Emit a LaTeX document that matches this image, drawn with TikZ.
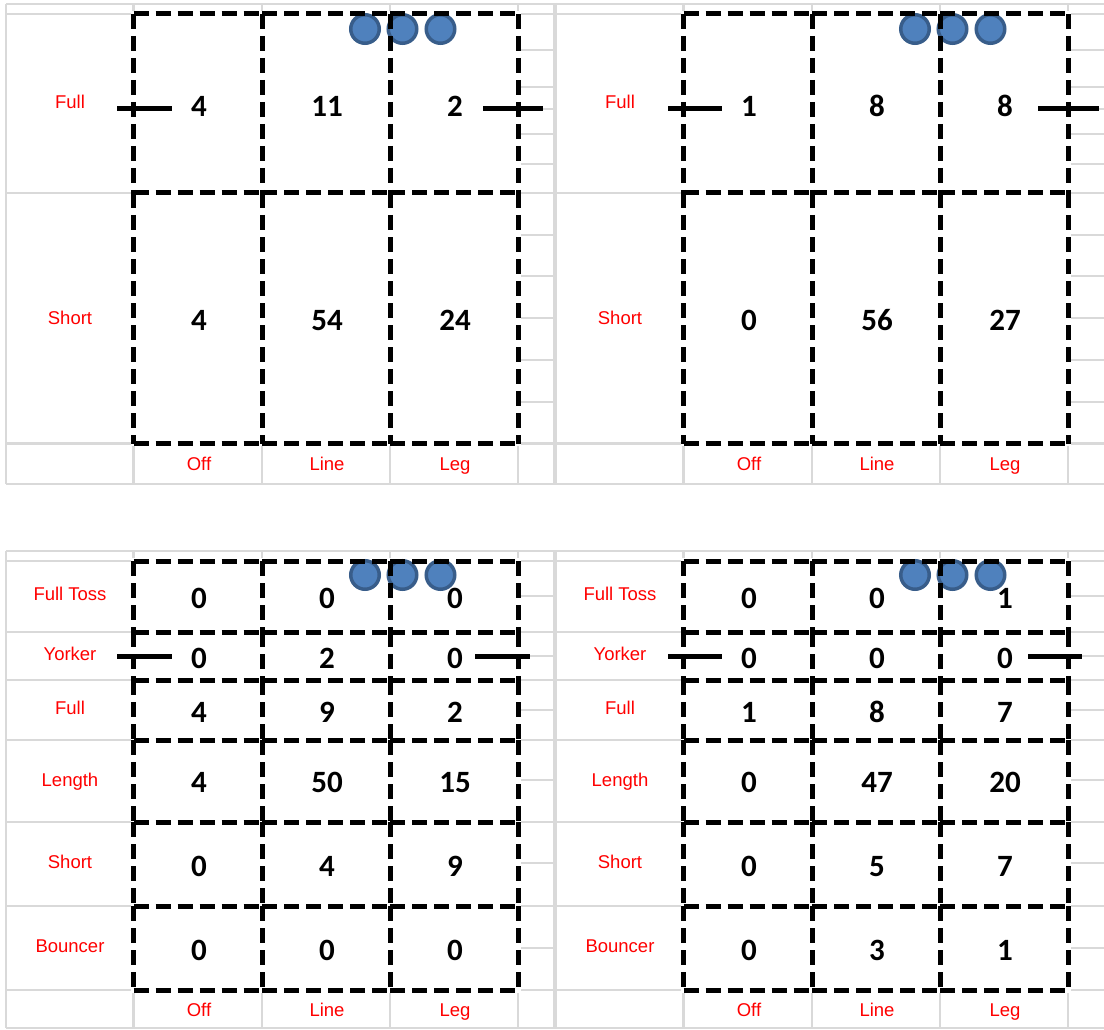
\documentclass[tikz,border=0pt]{standalone}
\usepackage{fontspec}
\setmainfont{Liberation Sans}
\newfontfamily\numfont{Carlito}
\definecolor{gridgray}{RGB}{217,217,217}
\definecolor{ballfill}{RGB}{79,129,189}
\definecolor{balledge}{RGB}{56,93,138}
\definecolor{lblred}{RGB}{255,0,0}
\newcommand\numrow[4]{%
  \foreach \v [count=\i] in {#4}
    \node[num] (#3-\i) at ({#1+71+128*\i},#2) {\v};}
\begin{document}
\begin{tikzpicture}[x=1pt,y=-1pt,
  gridline/.style={draw=gridgray,line width=2.2pt},
  divider/.style={draw=gridgray,line width=4.5pt},
  cellwhite/.style={draw=white,line width=5.4pt},
  cellbox/.style={draw=black,line width=5pt,dash pattern=on 15pt off 7pt},
  num/.style={font=\numfont\bfseries\fontsize{31}{31}\selectfont,anchor=base,inner sep=0pt},
  lbl/.style={font=\fontsize{18.5}{18.5}\selectfont,text=lblred,anchor=base,inner sep=0pt},
  ball/.style={circle,fill=ballfill,draw=balledge,line width=3.5pt,minimum size=28.5pt,inner sep=0pt},
  tickmark/.style={draw=black,line width=5pt},
]
\useasboundingbox (0,0) rectangle (1104,1030);

% ---------- gray spreadsheet grid ----------
\foreach \ox in {0,550} {
  % top panels
  \foreach \y in {4,14,193,443.5,484}
    \draw[gridline] ({\ox+6},\y) -- ({\ox+556},\y);
  \foreach \y in {50,87,109,134,164,235,276,318,360,402}
    \draw[gridline] ({\ox+518},\y) -- ({\ox+556},\y);
  \foreach \x in {133.5,262,390,518}
    \draw[gridline] ({\ox+\x},4) -- ({\ox+\x},484);
  % bottom panels
  \foreach \y in {551,561,632,680,740,822,906,990,1028}
    \draw[gridline] ({\ox+6},\y) -- ({\ox+556},\y);
  \foreach \y in {596,656,710,780,863,948}
    \draw[gridline] ({\ox+518},\y) -- ({\ox+556},\y);
  \foreach \x in {133.5,262,390,518}
    \draw[gridline] ({\ox+\x},551) -- ({\ox+\x},1028);
}
\draw[gridline] (6,4) -- (6,484);
\draw[gridline] (6,551) -- (6,1028);
\draw[divider] (555,3) -- (555,485);
\draw[divider] (555,550) -- (555,1029);

% ---------- white underlay of the cell borders ----------
\foreach \ox in {0,550} {
  \draw[cellwhite] ({\ox+133.5},14) rectangle ({\ox+518},443.5);
  \draw[cellwhite] ({\ox+133.5},561) rectangle ({\ox+518},990);
  \foreach \x in {262,390} {
    \draw[cellwhite] ({\ox+\x},14) -- ({\ox+\x},443.5);
    \draw[cellwhite] ({\ox+\x},561) -- ({\ox+\x},990);
  }
  \foreach \y in {193} \draw[cellwhite] ({\ox+133.5},\y) -- ({\ox+518},\y);
  \foreach \y in {632,680,740,822,906} \draw[cellwhite] ({\ox+133.5},\y) -- ({\ox+518},\y);
}

% ---------- stumps (balls) ----------
\foreach \ox/\p in {0/A,550/B} {
  \foreach \bx [count=\i] in {365,402.5,440.5} {
    \node[ball] (top\p ball\i) at ({\ox+\bx},29) {};
    \node[ball] (bot\p ball\i) at ({\ox+\bx},575) {};
  }
}

% ---------- dashed cell borders (one segment per cell edge) ----------
\foreach \ox in {0,550} {
  \foreach \xa/\xb in {133.5/262,262/390,390/518} {
    \foreach \y in {14,193,443.5}
      \draw[cellbox] ({\ox+\xa},\y) -- ({\ox+\xb},\y);
    \foreach \y in {561,632,680,740,822,906,990}
      \draw[cellbox] ({\ox+\xa},\y) -- ({\ox+\xb},\y);
  }
  \foreach \x in {133.5,262,390,518} {
    \foreach \ya/\yb in {14/193,193/443.5}
      \draw[cellbox] ({\ox+\x},\ya) -- ({\ox+\x},\yb);
    \foreach \ya/\yb in {561/632,632/680,680/740,740/822,822/906,906/990}
      \draw[cellbox] ({\ox+\x},\ya) -- ({\ox+\x},\yb);
  }
}

% ---------- crease marks ----------
\coordinate (tA1) at (117,109);  \coordinate (tA2) at (172,109);
\coordinate (tA3) at (483,109);  \coordinate (tA4) at (543,109);
\coordinate (tB1) at (668,109);  \coordinate (tB2) at (722,109);
\coordinate (tB3) at (1038,109); \coordinate (tB4) at (1099,109);
\coordinate (bA1) at (117,656);  \coordinate (bA2) at (172,656);
\coordinate (bA3) at (475,656);  \coordinate (bA4) at (530,656);
\coordinate (bB1) at (668,656);  \coordinate (bB2) at (722,656);
\coordinate (bB3) at (1028,656); \coordinate (bB4) at (1082,656);
\draw[tickmark] (tA1) -- (tA2);
\draw[tickmark] (tA3) -- (tA4);
\draw[tickmark] (tB1) -- (tB2);
\draw[tickmark] (tB3) -- (tB4);
\draw[tickmark] (bA1) -- (bA2);
\draw[tickmark] (bA3) -- (bA4);
\draw[tickmark] (bB1) -- (bB2);
\draw[tickmark] (bB3) -- (bB4);

% ---------- numbers ----------
\numrow{0}{117}{tAr1}{4,11,2}
\numrow{0}{330}{tAr2}{4,54,24}
\numrow{550}{117}{tBr1}{1,8,8}
\numrow{550}{330}{tBr2}{0,56,27}

\numrow{0}{608}{bAr1}{0,0,0}
\numrow{0}{668}{bAr2}{0,2,0}
\numrow{0}{722}{bAr3}{4,9,2}
\numrow{0}{792}{bAr4}{4,50,15}
\numrow{0}{876}{bAr5}{0,4,9}
\numrow{0}{960}{bAr6}{0,0,0}

\numrow{550}{608}{bBr1}{0,0,1}
\numrow{550}{668}{bBr2}{0,0,0}
\numrow{550}{722}{bBr3}{1,8,7}
\numrow{550}{792}{bBr4}{0,47,20}
\numrow{550}{876}{bBr5}{0,5,7}
\numrow{550}{960}{bBr6}{0,3,1}

% ---------- red labels ----------
\foreach \ox/\p in {0/A,550/B} {
  \node[lbl] (tfull\p)  at ({\ox+70},108.3) {Full};
  \node[lbl] (tshort\p) at ({\ox+70},324) {Short};
  \node[lbl] (toff\p)   at ({\ox+199},470) {Off};
  \node[lbl] (tline\p)  at ({\ox+327},470) {Line};
  \node[lbl] (tleg\p)   at ({\ox+455},470) {Leg};
  \node[lbl] (bft\p)    at ({\ox+70},600) {Full Toss};
  \node[lbl] (byork\p)  at ({\ox+70},660) {Yorker};
  \node[lbl] (bfull\p)  at ({\ox+70},714) {Full};
  \node[lbl] (blen\p)   at ({\ox+70},786) {Length};
  \node[lbl] (bshort\p) at ({\ox+70},868) {Short};
  \node[lbl] (bbnc\p)   at ({\ox+70},952) {Bouncer};
  \node[lbl] (boff\p)   at ({\ox+199},1016.5) {Off};
  \node[lbl] (bline\p)  at ({\ox+327},1016.5) {Line};
  \node[lbl] (bleg\p)   at ({\ox+455},1016.5) {Leg};
}
\end{tikzpicture}
\end{document}
